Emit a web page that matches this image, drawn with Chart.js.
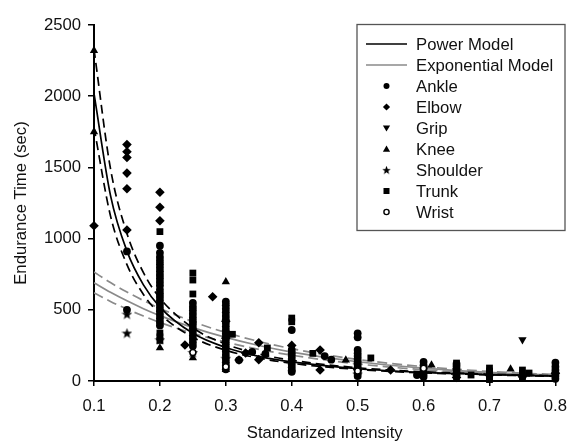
<!DOCTYPE html>
<html><head><meta charset="utf-8">
<script src="https://cdn.jsdelivr.net/npm/chart.js@4.4.1/dist/chart.umd.min.js"></script>
<style>html,body{margin:0;padding:0;background:#fff;}#wrap{width:577px;height:444px;}</style>
</head><body><div id="wrap"><canvas id="c" width="577" height="444"></canvas></div>
<script>
// ---- Data ----
const xTicks = [0.1, 0.2, 0.3, 0.4, 0.5, 0.6, 0.7, 0.8];
const yTicks = [0, 500, 1000, 1500, 2000, 2500];
const curveX = [0.1, 0.125, 0.15, 0.175, 0.2, 0.25, 0.3, 0.35, 0.4, 0.5, 0.6, 0.7, 0.8];
const powerFit   = [2020, 1304, 912, 675, 519, 335, 235, 173, 134, 86, 60, 45, 34];
const powerUpper = [2330, 1491, 1036, 761, 582, 373, 259, 190, 146, 93, 65, 48, 36];
const powerLower = [1780, 1160, 817, 608, 470, 307, 216, 161, 124, 81, 57, 43, 33];
const expFit     = [690, 623, 563, 508, 459, 375, 306, 249, 203, 135, 90, 60, 40];
const expUpper   = [765, 691, 625, 565, 510, 417, 340, 278, 227, 151, 101, 67, 45];
const expLower   = [620, 559, 505, 456, 411, 335, 273, 222, 181, 120, 79, 53, 35];

const ankle = [[0.15,910],[0.15,500],
  [0.2,950],[0.2,900],[0.2,870],[0.2,845],[0.2,820],[0.2,795],[0.2,770],[0.2,745],[0.2,720],[0.2,695],[0.2,670],[0.2,640],[0.2,615],[0.2,590],[0.2,565],[0.2,540],[0.2,515],[0.2,490],[0.2,465],[0.2,440],[0.2,415],[0.2,390],
  [0.25,548],[0.25,520],[0.25,495],[0.25,470],[0.25,445],[0.25,420],[0.25,395],[0.25,370],[0.25,345],[0.25,320],[0.25,295],[0.25,270],[0.25,245],
  [0.3,557],[0.3,532],[0.3,507],[0.3,482],[0.3,457],[0.3,432],[0.3,407],[0.3,382],[0.3,357],[0.3,332],[0.3,307],[0.3,282],[0.3,257],[0.3,232],[0.3,207],[0.3,182],[0.3,157],[0.3,132],[0.3,107],[0.3,82],
  [0.32,147],[0.34,205],[0.36,190],
  [0.4,358],[0.4,218],[0.4,195],[0.4,175],[0.4,155],[0.4,135],[0.4,115],[0.4,95],[0.4,75],[0.4,65],[0.45,175],[0.46,150],
  [0.5,335],[0.5,307],[0.5,218],[0.5,195],[0.5,175],[0.5,155],[0.5,135],[0.5,115],[0.5,95],[0.5,75],[0.5,55],[0.5,35],
  [0.6,135],[0.6,110],[0.6,90],[0.6,70],[0.6,50],[0.6,30],[0.59,42],
  [0.65,120],[0.65,100],[0.65,80],[0.65,60],[0.65,40],
  [0.8,129],[0.8,100],[0.8,77],[0.8,55],[0.8,35],[0.8,15]];
const elbow = [[0.1,1090],[0.15,1660],[0.15,1610],[0.15,1570],[0.15,1460],[0.15,1350],[0.15,1060],
  [0.2,1325],[0.2,1220],[0.2,1125],[0.238,253],[0.28,592],[0.3,420],[0.3,300],[0.32,147],[0.33,197],[0.35,269],[0.35,150],
  [0.443,218],[0.443,77],[0.4,250],[0.55,77],[0.6,60],[0.65,25],[0.7,40],[0.75,30],[0.8,55]];
const grip = [[0.75,290],[0.5,60],[0.6,50]];
const knee = [[0.1,2320],[0.1,1750],[0.2,232],[0.25,162],[0.3,697],[0.3,80],[0.482,147],[0.612,112],[0.732,84]];
const shoulder = [[0.15,470],[0.15,337],[0.2,290],[0.25,200],[0.3,160],[0.5,50]];
const trunk = [[0.2,1049],[0.2,337],[0.2,310],[0.2,285],[0.25,758],[0.25,709],[0.25,611],[0.31,328],[0.363,232],[0.4,442],[0.4,416],[0.432,194],[0.52,162],
  [0.6,50],[0.65,126],[0.65,105],[0.65,85],[0.65,45],[0.65,21],[0.672,42],[0.7,91],[0.7,70],[0.7,50],[0.7,30],[0.7,10],[0.75,77],[0.75,55],[0.75,35],[0.76,56],[0.75,21],[0.8,42]];
const wrist = [[0.25,200],[0.3,100],[0.5,70],[0.6,90]];

// ---- Styles ----
const FONT = 'Liberation Sans, Arial, sans-serif';
const FS = 16.7;
const TXT = '#111';
const GRAY = '#8a8a8a';

function makeStar(size) {
  const c = document.createElement('canvas');
  c.width = size; c.height = size;
  const g = c.getContext('2d');
  const cx = size / 2, cy = size / 2 + 0.5, R = size / 2, r = R * 0.42;
  g.beginPath();
  for (let i = 0; i < 10; i++) {
    const ang = -Math.PI / 2 + i * Math.PI / 5;
    const rad = i % 2 === 0 ? R : r;
    g.lineTo(cx + rad * Math.cos(ang), cy + rad * Math.sin(ang));
  }
  g.closePath(); g.fillStyle = '#000'; g.fill();
  return c;
}
const starImg = makeStar(11);

const toXY = arr => arr.map(p => ({x: p[0], y: p[1]}));
const curve = ys => curveX.map((x, i) => ({x, y: ys[i]}));

function pts(label, arr, style, radius, extra) {
  return Object.assign({
    type: 'scatter', label, data: toXY(arr), pointStyle: style, pointRadius: radius,
    backgroundColor: '#000', borderColor: '#000', borderWidth: 0, order: 1, clip: false
  }, extra || {});
}
function line(label, ys, color, dash, width) {
  return {
    type: 'line', label, data: curve(ys), borderColor: color, borderWidth: width,
    borderDash: dash, pointRadius: 0, fill: false, showLine: true,
    cubicInterpolationMode: 'monotone', order: 2
  };
}

const datasets = [
  pts('Wrist', wrist, 'circle', 3, {backgroundColor: '#fff', borderWidth: 1.5}),
  pts('Ankle', ankle, 'circle', 3.9),
  pts('Elbow', elbow, 'rectRot', 4.8),
  pts('Grip', grip, 'triangle', 4.8, {rotation: 180}),
  pts('Knee', knee, 'triangle', 4.8),
  pts('Shoulder', shoulder, starImg, 5),
  pts('Trunk', trunk, 'rect', 4.8),
  line('Power Model', powerFit, '#000', [], 1.7),
  line('Power upper', powerUpper, '#000', [9, 5], 1.7),
  line('Power lower', powerLower, '#000', [9, 5], 1.7),
  line('Exponential Model', expFit, GRAY, [], 1.7),
  line('Exp upper', expUpper, GRAY, [10, 5], 1.7),
  line('Exp lower', expLower, GRAY, [10, 5], 1.7)
];

const legendItems = [
  {text: 'Power Model', kind: 'line', color: '#000'},
  {text: 'Exponential Model', kind: 'line', color: GRAY},
  {text: 'Ankle', kind: 'circle'},
  {text: 'Elbow', kind: 'diamond'},
  {text: 'Grip', kind: 'down'},
  {text: 'Knee', kind: 'up'},
  {text: 'Shoulder', kind: 'star'},
  {text: 'Trunk', kind: 'square'},
  {text: 'Wrist', kind: 'open'}
];

const legendPlugin = {
  id: 'boxLegend',
  afterDraw(chart) {
    const ctx = chart.ctx;
    ctx.save();
    ctx.strokeStyle = '#555'; ctx.lineWidth = 1.3;
    ctx.strokeRect(357, 24.5, 208, 206);
    ctx.font = FS + 'px ' + FONT; ctx.fillStyle = TXT; ctx.textBaseline = 'middle'; ctx.textAlign = 'left';
    legendItems.forEach((it, i) => {
      const y = 44 + i * 21, mx = 386.5;
      ctx.fillStyle = '#000';
      if (it.kind === 'line') {
        ctx.strokeStyle = it.color; ctx.lineWidth = 1.6;
        ctx.beginPath(); ctx.moveTo(366, y); ctx.lineTo(407, y); ctx.stroke();
      } else if (it.kind === 'circle') {
        ctx.beginPath(); ctx.arc(mx, y, 3, 0, Math.PI * 2); ctx.fill();
      } else if (it.kind === 'open') {
        ctx.beginPath(); ctx.arc(mx, y, 2.6, 0, Math.PI * 2); ctx.fillStyle = '#fff'; ctx.fill();
        ctx.strokeStyle = '#000'; ctx.lineWidth = 1.4; ctx.stroke();
      } else if (it.kind === 'diamond') {
        ctx.beginPath(); ctx.moveTo(mx, y - 3.6); ctx.lineTo(mx + 3.6, y); ctx.lineTo(mx, y + 3.6); ctx.lineTo(mx - 3.6, y); ctx.closePath(); ctx.fill();
      } else if (it.kind === 'down') {
        ctx.beginPath(); ctx.moveTo(mx - 3.6, y - 2.6); ctx.lineTo(mx + 3.6, y - 2.6); ctx.lineTo(mx, y + 3.4); ctx.closePath(); ctx.fill();
      } else if (it.kind === 'up') {
        ctx.beginPath(); ctx.moveTo(mx - 3.6, y + 2.8); ctx.lineTo(mx + 3.6, y + 2.8); ctx.lineTo(mx, y - 3.4); ctx.closePath(); ctx.fill();
      } else if (it.kind === 'star') {
        ctx.drawImage(starImg, mx - 4.5, y - 4.5, 9, 9);
      } else if (it.kind === 'square') {
        ctx.fillRect(mx - 3, y - 3, 6, 6);
      }
      ctx.fillStyle = TXT;
      ctx.fillText(it.text, 416, y + 1);
    });
    ctx.restore();
  }
};

new Chart(document.getElementById('c'), {
  type: 'scatter',
  data: {datasets},
  options: {
    responsive: false, animation: false, devicePixelRatio: 1,
    layout: {padding: {top: 25, right: 13, left: 0, bottom: 0}},
    plugins: {legend: {display: false}, tooltip: {enabled: false}},
    scales: {
      x: {
        type: 'linear', min: 0.1, max: 0.8,
        afterBuildTicks: s => { s.ticks = xTicks.map(v => ({value: v})); },
        ticks: {callback: v => Number(v).toFixed(1), font: {family: FONT, size: FS}, color: TXT, padding: 10, maxRotation: 0, autoSkip: false},
        grid: {drawOnChartArea: false, drawTicks: true, tickLength: 5, color: '#000', lineWidth: 1.5},
        border: {color: '#000', width: 2},
        title: {display: true, text: 'Standarized Intensity', font: {family: FONT, size: FS}, color: TXT, padding: {top: 0, bottom: 1}},
        afterFit: s => { s.height = 63; }
      },
      y: {
        type: 'linear', min: 0, max: 2500,
        afterBuildTicks: s => { s.ticks = yTicks.map(v => ({value: v})); },
        ticks: {callback: v => String(v), font: {family: FONT, size: FS}, color: TXT, padding: 7, autoSkip: false},
        grid: {drawOnChartArea: false, drawTicks: true, tickLength: 6, color: '#000', lineWidth: 1.5},
        border: {color: '#000', width: 2},
        title: {display: true, text: 'Endurance Time (sec)', font: {family: FONT, size: FS}, color: TXT, padding: {top: 11, bottom: 0}},
        afterFit: s => { s.width = 94; }
      }
    }
  },
  plugins: [legendPlugin]
});
</script></body></html>
